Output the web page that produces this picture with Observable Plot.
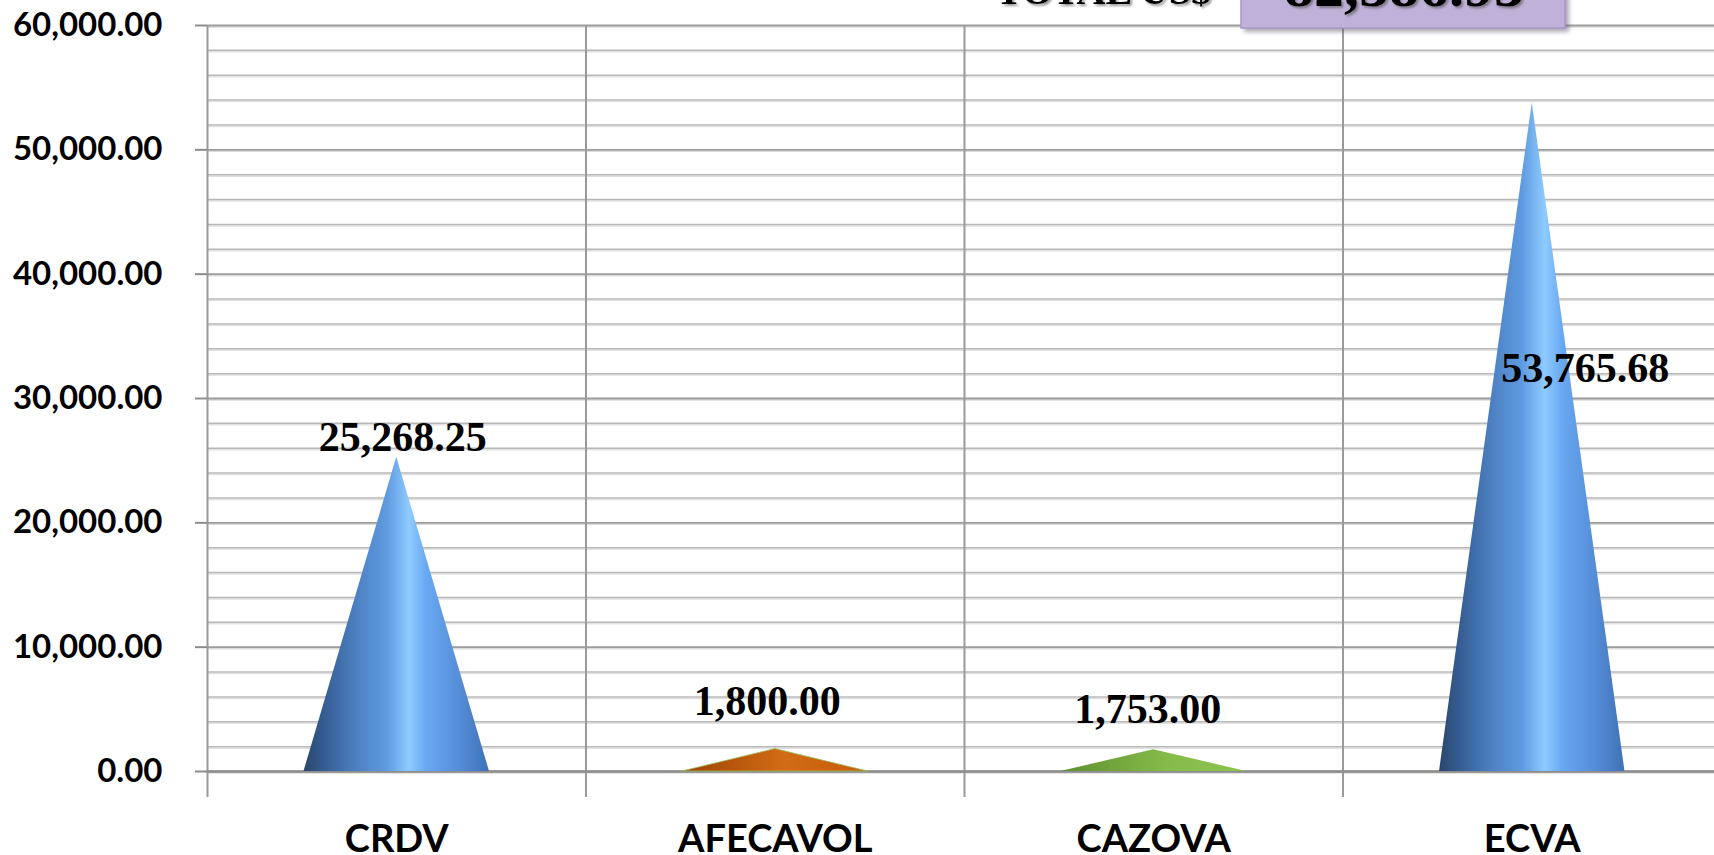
<!DOCTYPE html>
<html><head><meta charset="utf-8">
<script src="https://cdn.jsdelivr.net/npm/d3@7"></script>
<script src="https://cdn.jsdelivr.net/npm/@observablehq/plot@0.6"></script>
<style>
html,body{margin:0;padding:0;background:#fff;overflow:hidden}
#wrap{position:relative;width:1714px;height:855px;overflow:hidden}
</style>
</head><body><div id="wrap"></div>
<script>
// ---- data ----
const categories = ["CRDV", "AFECAVOL", "CAZOVA", "ECVA"];
const values = [25268.25, 1800.00, 1753.00, 53765.68];
const coneColors = ["blue", "orange", "green", "blue"];
const yTicks = [0, 10000, 20000, 30000, 40000, 50000, 60000];
const minorTicks = d3.range(0, 60001, 2000).filter(d => d % 10000 !== 0);
const totalLabel = "TOTAL US$";

// ---- layout (pixel styling, not data) ----
const labelOffsets = [[6, -6], [-8, -34], [-6, -27], [53, 279]];
const halfWidth = 0.245;

const cones = categories.map((c, i) => [
  {x: i + 0.5 - halfWidth, y: 0},
  {x: i + 0.5, y: values[i]},
  {x: i + 0.5 + halfWidth, y: 0}
]);
const fmt = d3.format(",.2f");

const marks = [
  Plot.ruleY(minorTicks, {stroke: "#e2e2e2", strokeWidth: 1.5, dy: 1.5}),
  Plot.ruleY(minorTicks, {stroke: "#b8b8b8", strokeWidth: 1.5}),
  Plot.ruleY(yTicks, {stroke: "#dcdcdc", strokeWidth: 1.5, dy: 1.5}),
  Plot.ruleY(yTicks, {stroke: "#9c9c9c", strokeWidth: 1.8}),
  Plot.ruleX([0, 1, 2, 3, 4], {stroke: "#9a9a9a", strokeWidth: 2, insetBottom: -26}),
  Plot.ruleY([0], {stroke: "#8e8e8e", strokeWidth: 2.5}),
];
cones.forEach((pts, i) => {
  marks.push(Plot.areaY(pts, {x: "x", y: "y", curve: "linear",
    fill: `url(#cone-${coneColors[i]})`,
    stroke: coneColors[i] === "orange" ? "#9bbb59" : "none", strokeWidth: 0.8}));
});
categories.forEach((c, i) => {
  marks.push(Plot.text([{x: i + 0.5, y: values[i]}], {
    x: "x", y: "y", text: d => fmt(d.y), lineAnchor: "bottom",
    dx: labelOffsets[i][0], dy: labelOffsets[i][1],
    fontFamily: "Liberation Serif", fontWeight: "bold", fontSize: 42, fill: "black"
  }));
});
marks.push(
  Plot.axisY({ticks: yTicks, tickSize: 12, tickFormat: () => "", label: null, stroke: "#8c8c8c", strokeWidth: 2}),
  Plot.axisY({ticks: yTicks, tickSize: 0, tickPadding: 45, tickFormat: fmt, label: null,
    fontSize: 33, fontWeight: "bold", fill: "black"}),
  Plot.axisX({ticks: [0.5, 1.5, 2.5, 3.5], tickSize: 0, tickPadding: 54, label: null,
    tickFormat: d => categories[Math.floor(d)], fontSize: 38, fontWeight: "bold", fill: "black"})
);

const chart = Plot.plot({
  width: 1714, height: 855,
  marginTop: 25, marginBottom: 84, marginLeft: 207, marginRight: 0,
  style: {fontFamily: "Lato", background: "white", color: "black"},
  x: {type: "linear", domain: [0, 4], range: [207, 1721], label: null},
  y: {domain: [0, 60000], range: [771, 25], label: null},
  marks
});

const svg = d3.select(chart);
const defs = svg.insert("defs", ":first-child");
function grad(id, stops) {
  const g = defs.append("linearGradient").attr("id", id).attr("x1", 0).attr("x2", 1).attr("y1", 0).attr("y2", 0);
  stops.forEach(([o, c]) => g.append("stop").attr("offset", o).attr("stop-color", c));
}
grad("cone-blue", [[0, "#2a466c"], [0.12, "#375f95"], [0.3, "#4f83c6"], [0.45, "#5f9be0"], [0.57, "#8ecbff"], [0.66, "#69a9f2"], [0.8, "#5a93de"], [1, "#3f72b6"]]);
grad("cone-orange", [[0, "#9a4507"], [0.3, "#b9580c"], [0.55, "#d26c16"], [0.75, "#cc6410"], [1, "#c65e0c"]]);
grad("cone-green", [[0, "#5f8e31"], [0.35, "#76aa40"], [0.6, "#86bd4a"], [1, "#8cc34f"]]);
const blur = defs.append("filter").attr("id", "blur").attr("x", "-20%").attr("y", "-20%").attr("width", "140%").attr("height", "140%");
blur.append("feGaussianBlur").attr("stdDeviation", 2);
const tsh = defs.append("filter").attr("id", "tshadow");
tsh.append("feDropShadow").attr("dx", 2).attr("dy", 2).attr("stdDeviation", 1.2).attr("flood-color", "#555").attr("flood-opacity", 0.6);

const deco = svg.append("g");
deco.append("rect").attr("x", 1244).attr("y", -20).attr("width", 325).attr("height", 52)
  .attr("fill", "#5e5470").attr("opacity", 0.5).attr("filter", "url(#blur)");
deco.append("rect").attr("x", 1241).attr("y", -20).attr("width", 324).attr("height", 48)
  .attr("fill", "#c0b1d8").attr("stroke", "#a897c6").attr("stroke-width", 1.5);
deco.append("text").attr("x", 1404).attr("y", 6).attr("text-anchor", "middle")
  .attr("font-family", "Liberation Serif").attr("font-weight", "bold").attr("font-size", 60)
  .attr("fill", "black").attr("filter", "url(#tshadow)").text(fmt(d3.sum(values)));
deco.append("text").attr("x", 1211).attr("y", 4).attr("text-anchor", "end")
  .attr("font-family", "Liberation Serif").attr("font-weight", "bold").attr("font-size", 40)
  .attr("fill", "black").attr("filter", "url(#tshadow)").text(totalLabel);

document.getElementById("wrap").appendChild(chart);
</script>
</body></html>
